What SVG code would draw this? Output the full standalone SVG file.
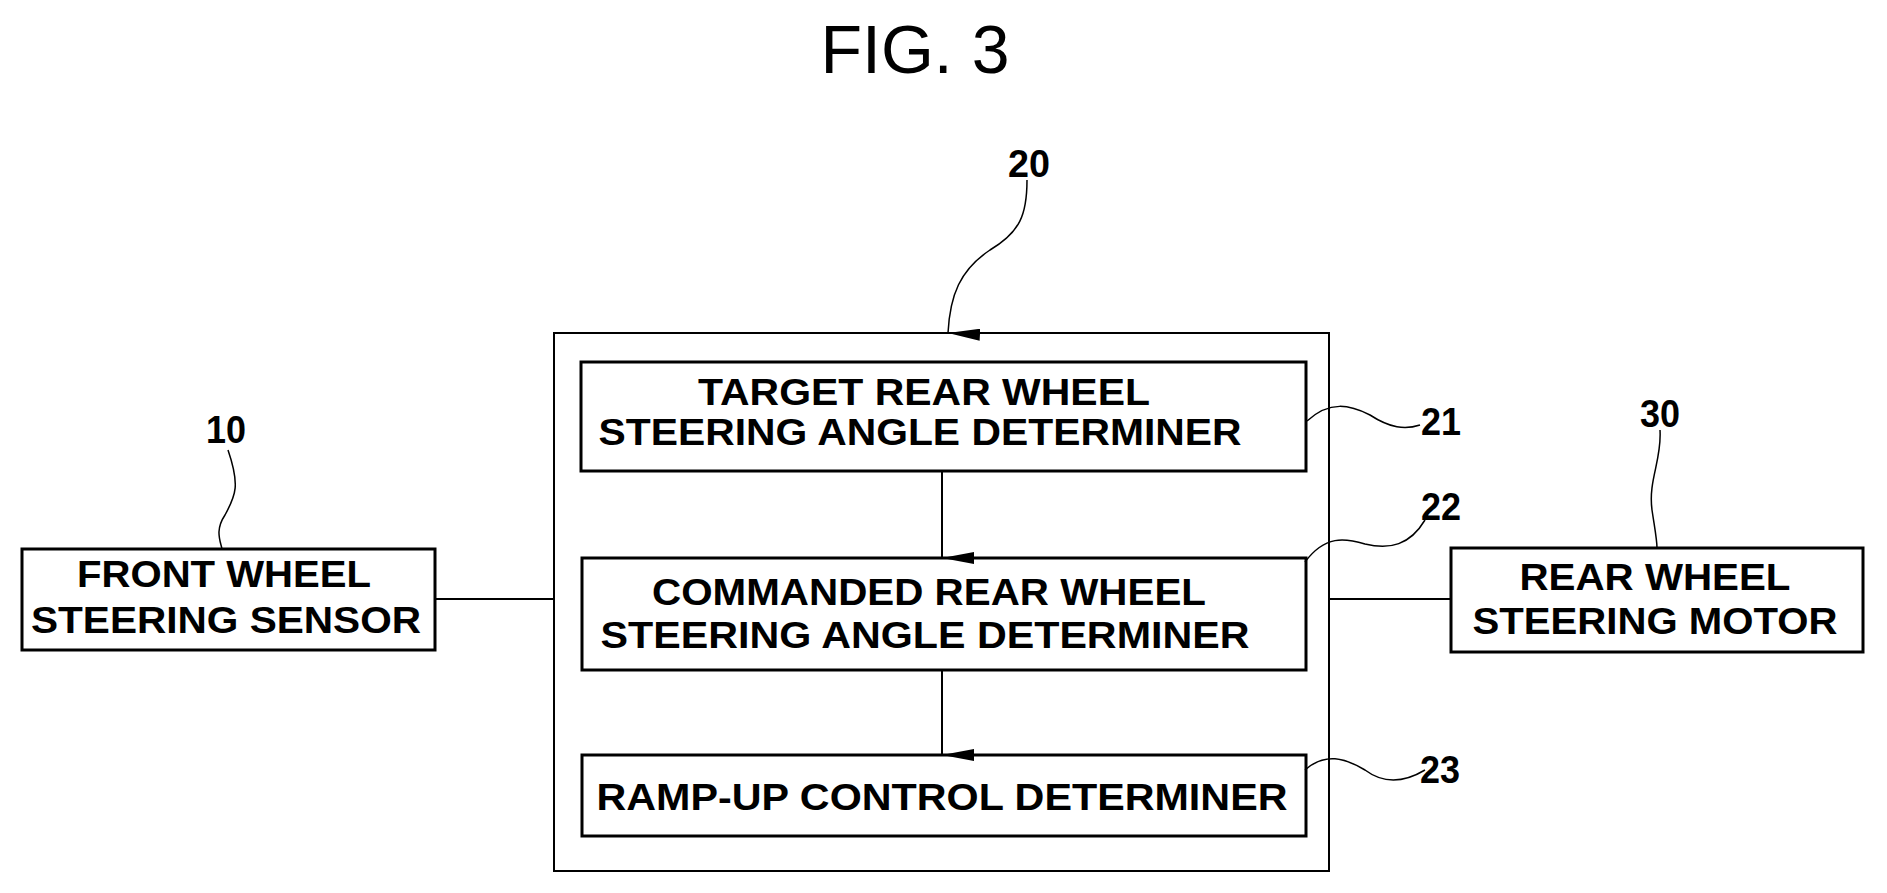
<svg xmlns="http://www.w3.org/2000/svg" width="1887" height="893" viewBox="0 0 1887 893">
<style>
.box{fill:#fff;stroke:#000;stroke-width:3}
.cont{fill:none;stroke:#000;stroke-width:2}
.t{font-family:"Liberation Sans",Arial,sans-serif;font-weight:bold;font-size:37px;text-anchor:middle;fill:#000}
.n{font-family:"Liberation Sans",Arial,sans-serif;font-weight:bold;font-size:38px;text-anchor:middle;fill:#000}
.ln{fill:none;stroke:#000;stroke-width:2}
.ld{fill:none;stroke:#000;stroke-width:1.5}
</style>
<defs>
<marker id="ah" markerWidth="12" markerHeight="32" refX="6" refY="32" orient="auto-start-reverse" markerUnits="userSpaceOnUse" viewBox="0 0 12 32">
<path d="M0,0 L12,0 L6,32 Z" fill="#000"/>
</marker>
</defs>
<rect width="1887" height="893" fill="#fff"/>
<text x="915" y="73" font-family="Liberation Sans,Arial,sans-serif" font-size="68" text-anchor="middle">FIG. 3</text>
<g id="container20">
<rect class="cont" x="554" y="333" width="775" height="538"/>
<text class="n" x="1029" y="177" textLength="42" lengthAdjust="spacingAndGlyphs">20</text>
</g>
<g id="front10">
<rect class="box" x="22" y="549" width="413" height="101"/>
<text class="t" x="224" y="587" textLength="294" lengthAdjust="spacingAndGlyphs">FRONT WHEEL</text>
<text class="t" x="226" y="633" textLength="390" lengthAdjust="spacingAndGlyphs">STEERING SENSOR</text>
<text class="n" x="226" y="443" textLength="40" lengthAdjust="spacingAndGlyphs">10</text>
</g>
<g id="box21">
<rect class="box" x="581" y="362" width="725" height="109"/>
<text class="t" x="924" y="405" textLength="452" lengthAdjust="spacingAndGlyphs">TARGET REAR WHEEL</text>
<text class="t" x="920" y="445" textLength="643" lengthAdjust="spacingAndGlyphs">STEERING ANGLE DETERMINER</text>
<text class="n" x="1441" y="435" textLength="40" lengthAdjust="spacingAndGlyphs">21</text>
</g>
<g id="box22">
<rect class="box" x="582" y="558" width="724" height="112"/>
<text class="t" x="929" y="605" textLength="554" lengthAdjust="spacingAndGlyphs">COMMANDED REAR WHEEL</text>
<text class="t" x="925" y="648" textLength="649" lengthAdjust="spacingAndGlyphs">STEERING ANGLE DETERMINER</text>
<text class="n" x="1441" y="520" textLength="40" lengthAdjust="spacingAndGlyphs">22</text>
</g>
<g id="box23">
<rect class="box" x="582" y="755" width="724" height="81"/>
<text class="t" x="942" y="810" textLength="691" lengthAdjust="spacingAndGlyphs">RAMP-UP CONTROL DETERMINER</text>
<text class="n" x="1440" y="783" textLength="40" lengthAdjust="spacingAndGlyphs">23</text>
</g>
<g id="motor30">
<rect class="box" x="1451" y="548" width="412" height="104"/>
<text class="t" x="1655" y="590" textLength="271" lengthAdjust="spacingAndGlyphs">REAR WHEEL</text>
<text class="t" x="1655" y="634" textLength="365" lengthAdjust="spacingAndGlyphs">STEERING MOTOR</text>
<text class="n" x="1660" y="427" textLength="40" lengthAdjust="spacingAndGlyphs">30</text>
</g>
<g id="connectors">
<line class="ln" x1="435" y1="599" x2="554" y2="599"/>
<line class="ln" x1="1329" y1="599" x2="1451" y2="599"/>
<line class="ln" x1="942" y1="471" x2="942" y2="558" marker-end="url(#ah)"/>
<line class="ln" x1="942" y1="670" x2="942" y2="755" marker-end="url(#ah)"/>
<path class="ld" d="M1027,180 C1027,215 1020,232 990,250 C960,270 950,295 948,333" marker-end="url(#ah)"/>
<path class="ld" d="M228,450 C240,485 236,495 225,515 C215,530 220,540 222,549"/>
<path class="ld" d="M1660,430 C1662,460 1648,480 1652,510 C1655,530 1657,540 1657,548"/>
<path class="ld" d="M1307,421 C1330,400 1350,405 1370,415 C1390,428 1405,430 1420,425"/>
<path class="ld" d="M1305,562 C1325,535 1345,538 1365,544 C1390,550 1410,545 1425,520"/>
<path class="ld" d="M1305,770 C1325,752 1345,758 1365,770 C1385,785 1405,782 1425,770"/>
</g>
</svg>
